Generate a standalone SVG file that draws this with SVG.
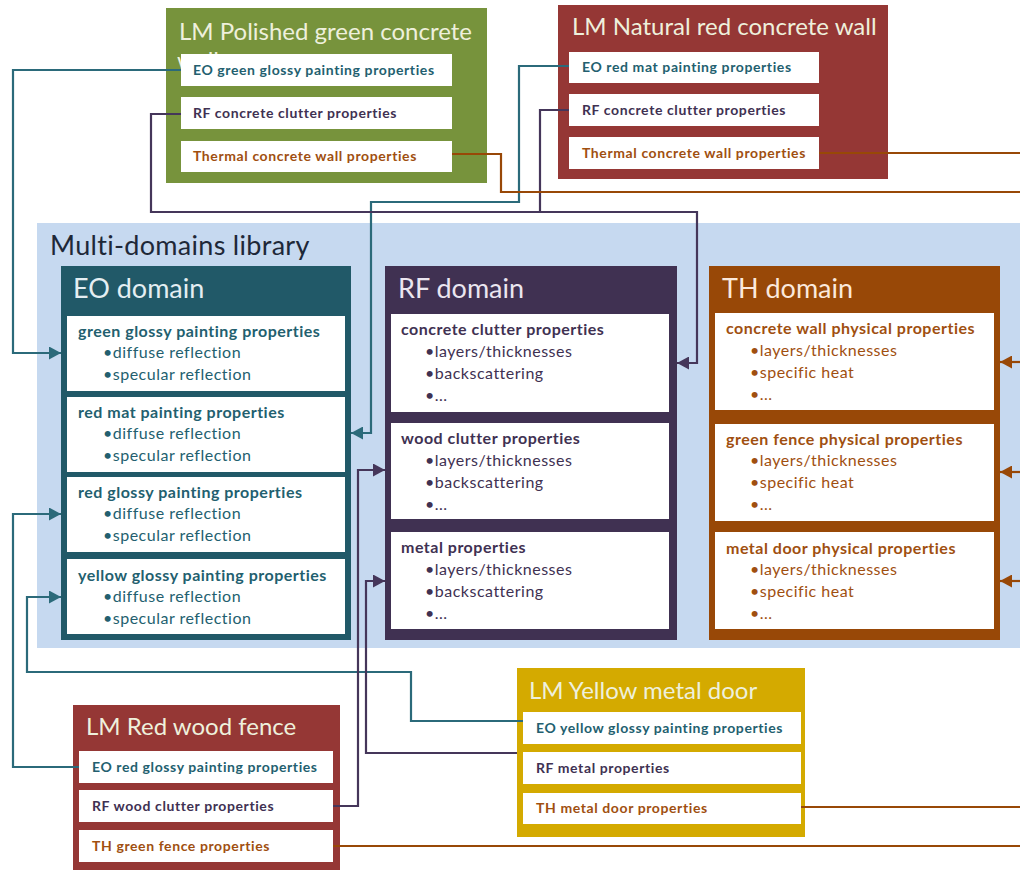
<svg xmlns="http://www.w3.org/2000/svg" width="1020" height="870" viewBox="0 0 1020 870">
  <defs>
    <style>
      text { font-family: "Lato", "Open Sans", "Liberation Sans", sans-serif; }
      .lmTitle { font-size: 24px; fill: #eef0dc; }
      .domTitle { font-size: 27px; fill: #e4eef2; }
      .libTitle { font-size: 27px; letter-spacing: 0.3px; fill: #1e2838; }
      .item { font-size: 14px; font-weight: 700; letter-spacing: 0.6px; }
      .head { font-size: 16px; font-weight: 700; letter-spacing: 0.5px; }
      .bul { font-size: 16px; letter-spacing: 0.5px; }
      .eo { fill: #235f6f; }
      .rf { fill: #403152; }
      .th { fill: #a04f10; }
      .box { fill: #ffffff; }
      .wire { fill: none; stroke-width: 2.2; stroke-linejoin: miter; }
      .wEO { stroke: #2b6a7a; }
      .wRF { stroke: #45365a; }
      .wTH { stroke: #984807; }
    </style>
    <marker id="aEO" markerUnits="userSpaceOnUse" markerWidth="13" markerHeight="13" refX="12" refY="6.5" orient="auto">
      <path d="M0,0 L12,6.5 L0,13 z" fill="#2b6a7a"/>
    </marker>
    <marker id="aRF" markerUnits="userSpaceOnUse" markerWidth="13" markerHeight="13" refX="12" refY="6.5" orient="auto">
      <path d="M0,0 L12,6.5 L0,13 z" fill="#45365a"/>
    </marker>
    <marker id="aTH" markerUnits="userSpaceOnUse" markerWidth="13" markerHeight="13" refX="12" refY="6.5" orient="auto">
      <path d="M0,0 L12,6.5 L0,13 z" fill="#984807"/>
    </marker>
  </defs>

  <rect x="0" y="0" width="1020" height="870" fill="#ffffff"/>

  <!-- library backdrop -->
  <g id="library">
    <rect x="37" y="223" width="983" height="425" fill="#c6d9f0"/>
    <text class="libTitle" x="50" y="255">Multi-domains library</text>
  </g>

  <!-- EO domain -->
  <g id="eo-domain">
    <rect x="61" y="266" width="290" height="374" fill="#215968"/>
    <text class="domTitle" x="73" y="298">EO domain</text>
    <rect class="box" x="67" y="316" width="278" height="75"/>
    <text class="head eo" x="78" y="337">green glossy painting properties</text>
    <text class="bul eo" x="103" y="358">•diffuse reflection</text>
    <text class="bul eo" x="103" y="380">•specular reflection</text>
    <rect class="box" x="67" y="397" width="278" height="75"/>
    <text class="head eo" x="78" y="418">red mat painting properties</text>
    <text class="bul eo" x="103" y="439">•diffuse reflection</text>
    <text class="bul eo" x="103" y="461">•specular reflection</text>
    <rect class="box" x="67" y="477" width="278" height="75"/>
    <text class="head eo" x="78" y="498">red glossy painting properties</text>
    <text class="bul eo" x="103" y="519">•diffuse reflection</text>
    <text class="bul eo" x="103" y="541">•specular reflection</text>
    <rect class="box" x="67" y="559" width="278" height="75"/>
    <text class="head eo" x="78" y="581">yellow glossy painting properties</text>
    <text class="bul eo" x="103" y="602">•diffuse reflection</text>
    <text class="bul eo" x="103" y="624">•specular reflection</text>
  </g>

  <!-- RF domain -->
  <g id="rf-domain">
    <rect x="385" y="266" width="292" height="374" fill="#403152"/>
    <text class="domTitle" x="398" y="298" style="fill:#ebe6f0">RF domain</text>
    <rect class="box" x="391" y="314" width="278" height="98"/>
    <text class="head rf" x="401" y="335">concrete clutter properties</text>
    <text class="bul rf" x="425" y="357">•layers/thicknesses</text>
    <text class="bul rf" x="425" y="379">•backscattering</text>
    <text class="bul rf" x="425" y="401">•...</text>
    <rect class="box" x="391" y="423" width="278" height="96"/>
    <text class="head rf" x="401" y="444">wood clutter properties</text>
    <text class="bul rf" x="425" y="466">•layers/thicknesses</text>
    <text class="bul rf" x="425" y="488">•backscattering</text>
    <text class="bul rf" x="425" y="510">•...</text>
    <rect class="box" x="391" y="532" width="278" height="97"/>
    <text class="head rf" x="401" y="553">metal properties</text>
    <text class="bul rf" x="425" y="575">•layers/thicknesses</text>
    <text class="bul rf" x="425" y="597">•backscattering</text>
    <text class="bul rf" x="425" y="619">•...</text>
  </g>

  <!-- TH domain -->
  <g id="th-domain">
    <rect x="709" y="266" width="291" height="374" fill="#984807"/>
    <text class="domTitle" x="722" y="298" style="fill:#fbe9dc">TH domain</text>
    <rect class="box" x="715" y="313" width="279" height="97"/>
    <text class="head th" x="726" y="334">concrete wall physical properties</text>
    <text class="bul th" x="750" y="356">•layers/thicknesses</text>
    <text class="bul th" x="750" y="378">•specific heat</text>
    <text class="bul th" x="750" y="400">•...</text>
    <rect class="box" x="715" y="424" width="279" height="97"/>
    <text class="head th" x="726" y="445">green fence physical properties</text>
    <text class="bul th" x="750" y="466">•layers/thicknesses</text>
    <text class="bul th" x="750" y="488">•specific heat</text>
    <text class="bul th" x="750" y="510">•...</text>
    <rect class="box" x="715" y="532" width="279" height="97"/>
    <text class="head th" x="726" y="554">metal door physical properties</text>
    <text class="bul th" x="750" y="575">•layers/thicknesses</text>
    <text class="bul th" x="750" y="597">•specific heat</text>
    <text class="bul th" x="750" y="619">•...</text>
  </g>

  <!-- LM Polished green concrete wall (title wraps behind the first entry) -->
  <g id="lm-green-concrete">
    <rect x="166" y="8" width="321" height="175" fill="#77933c"/>
    <text class="lmTitle" x="179" y="40">LM Polished green concrete</text>
    <text class="lmTitle" x="177" y="69">wall</text>
    <rect class="box" x="181" y="54" width="271" height="32"/>
    <text class="item eo" x="193" y="75">EO green glossy painting properties</text>
    <rect class="box" x="181" y="97" width="271" height="32"/>
    <text class="item rf" x="193" y="118">RF concrete clutter properties</text>
    <rect class="box" x="181" y="141" width="271" height="31"/>
    <text class="item th" x="193" y="161">Thermal concrete wall properties</text>
  </g>

  <!-- LM Natural red concrete wall -->
  <g id="lm-red-concrete">
    <rect x="558" y="5" width="330" height="174" fill="#953735"/>
    <text class="lmTitle" x="572" y="35">LM Natural red concrete wall</text>
    <rect class="box" x="569" y="52" width="250" height="31"/>
    <text class="item eo" x="582" y="72">EO red mat painting properties</text>
    <rect class="box" x="569" y="94" width="250" height="32"/>
    <text class="item rf" x="582" y="115">RF concrete clutter properties</text>
    <rect class="box" x="569" y="137" width="250" height="32"/>
    <text class="item th" x="582" y="158">Thermal concrete wall properties</text>
  </g>

  <!-- LM Red wood fence -->
  <g id="lm-red-wood-fence">
    <rect x="73" y="705" width="267" height="165" fill="#953735"/>
    <text class="lmTitle" x="86" y="735">LM Red wood fence</text>
    <rect class="box" x="79" y="751" width="254" height="32"/>
    <text class="item eo" x="92" y="772">EO red glossy painting properties</text>
    <rect class="box" x="79" y="790" width="254" height="32"/>
    <text class="item rf" x="92" y="811">RF wood clutter properties</text>
    <rect class="box" x="79" y="830" width="254" height="32"/>
    <text class="item th" x="92" y="851">TH green fence properties</text>
  </g>

  <!-- LM Yellow metal door -->
  <g id="lm-yellow-metal-door">
    <rect x="517" y="668" width="288" height="169" fill="#d4aa00"/>
    <text class="lmTitle" x="529" y="699">LM Yellow metal door</text>
    <rect class="box" x="523" y="712" width="278" height="32"/>
    <text class="item eo" x="536" y="733">EO yellow glossy painting properties</text>
    <rect class="box" x="523" y="752" width="278" height="32"/>
    <text class="item rf" x="536" y="773">RF metal properties</text>
    <rect class="box" x="523" y="793" width="278" height="31"/>
    <text class="item th" x="536" y="813">TH metal door properties</text>
  </g>

  <!-- links from material properties to library entries -->
  <g id="connectors">
    <!-- EO -->
    <path class="wire wEO" d="M181,70 H13 V353 H61" marker-end="url(#aEO)"/>
    <path class="wire wEO" d="M569,66 H519 V202 H371 V433 H351" marker-end="url(#aEO)"/>
    <path class="wire wEO" d="M79,767 H13 V514 H61" marker-end="url(#aEO)"/>
    <path class="wire wEO" d="M523,721 H411 V672 H27 V597 H61" marker-end="url(#aEO)"/>
    <!-- RF -->
    <path class="wire wRF" d="M181,114 H151 V212 H697 V363 H677" marker-end="url(#aRF)"/>
    <path class="wire wRF" d="M569,110 H540 V212"/>
    <path class="wire wRF" d="M333,806 H358 V470 H385" marker-end="url(#aRF)"/>
    <path class="wire wRF" d="M517,753 H366 V581 H385" marker-end="url(#aRF)"/>
    <!-- TH -->
    <path class="wire wTH" d="M452,154 H501 V192 H1020"/>
    <path class="wire wTH" d="M819,153 H1020"/>
    <path class="wire wTH" d="M333,846 H1020"/>
    <path class="wire wTH" d="M801,807 H1020"/>
    <path class="wire wTH" d="M1020,362 H1000" marker-end="url(#aTH)"/>
    <path class="wire wTH" d="M1020,472 H1000" marker-end="url(#aTH)"/>
    <path class="wire wTH" d="M1020,581 H1000" marker-end="url(#aTH)"/>
  </g>
</svg>
